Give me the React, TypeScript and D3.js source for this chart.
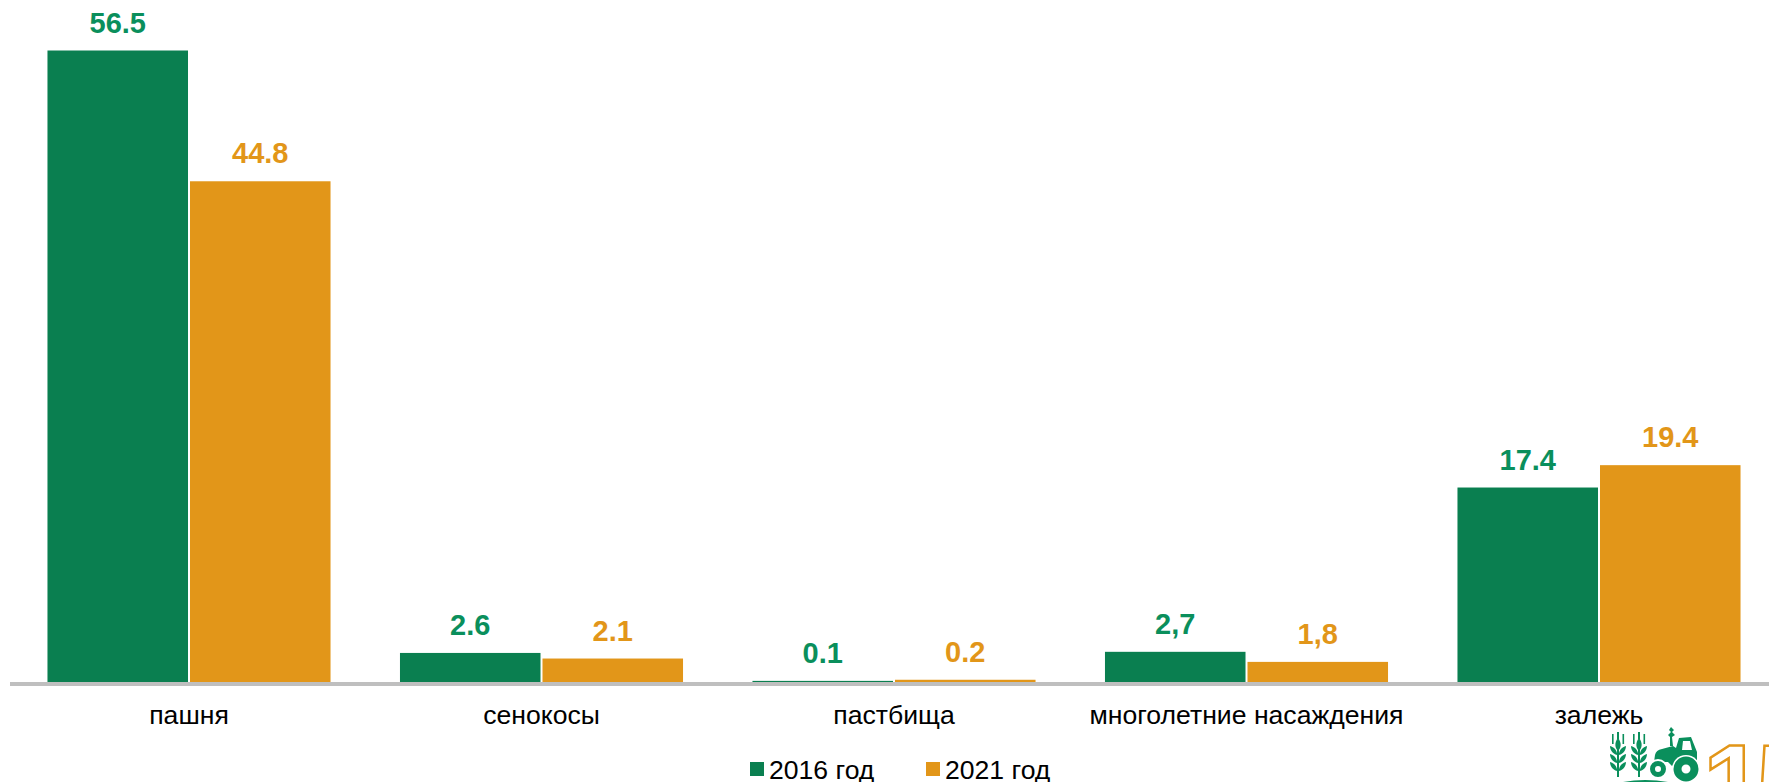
import React from "react";
import * as d3 from "d3";

const categories = ["пашня", "сенокосы", "пастбища", "многолетние насаждения", "залежь"];
const seriesNames = ["2016 год", "2021 год"];
const values2016 = [56.5, 2.6, 0.1, 2.7, 17.4];
const values2021 = [44.8, 2.1, 0.2, 1.8, 19.4];
const labels2016 = ["56.5", "2.6", "0.1", "2,7", "17.4"];
const labels2021 = ["44.8", "2.1", "0.2", "1,8", "19.4"];
const colors = ["#0A7F50", "#E29619"];
const labelColors = ["#0A8F5C", "#E29619"];

const W = 1769, H = 782;
const baseY = 682;
const x0 = d3.scaleBand<string>().domain(categories).range([12.75, 1775.25]).paddingInner(0.197).paddingOuter(0.0985);
const x1 = d3.scaleBand<string>().domain(seriesNames).range([0, x0.bandwidth()]).paddingInner(0.014);
const y = d3.scaleLinear().domain([0, 56.5]).range([baseY, 50.5]);
const font = "'Liberation Sans', Arial, sans-serif";

const G = "#0A8F5C";
const Logo = () => (
  <g fill={G}>
    {[1618, 1639].map((cx) => (
      <g key={cx}>
        <rect x={cx - 1} y={740} width={2} height={37} />
        <rect x={cx - 1} y={732} width={2} height={7} />
        <rect x={cx - 6} y={734} width={1.6} height={10} />
        <rect x={cx + 4.5} y={734} width={1.6} height={10} />
        <path d={`M${cx},${738} C${cx + 4},${743} ${cx + 3},${748} ${cx},${751} C${cx - 3},${748} ${cx - 4},${743} ${cx},${738}Z`} />
        {[746, 754, 762].map((yy) => (
          <g key={yy}>
            <path d={`M${cx - 0.8},${yy + 9} C${cx - 6},${yy + 8} ${cx - 8},${yy + 3} ${cx - 8},${yy} C${cx - 4},${yy + 1} ${cx - 1},${yy + 4} ${cx - 0.8},${yy + 9}Z`} />
            <path d={`M${cx + 0.8},${yy + 9} C${cx + 6},${yy + 8} ${cx + 8},${yy + 3} ${cx + 8},${yy} C${cx + 4},${yy + 1} ${cx + 1},${yy + 4} ${cx + 0.8},${yy + 9}Z`} />
          </g>
        ))}
      </g>
    ))}
    <path d="M1623,782 Q1645,778 1668,782Z" />
    <path d="M1655,755 Q1656,750 1662,749 L1673,746 L1676,748 L1679,738 L1691,737 L1697,752 L1697,760 L1680,760 L1672,766 L1668,762 L1654,762 Z" />
    <path d="M1683,741 L1690,741 L1692,750 L1682,750 Z" fill="#fff" />
    <path d="M1671,727 L1674,730 L1672,732 L1675,735 L1672,737 L1673,746 L1670,746 L1670,737 L1668,735 L1671,732 L1669,730 Z" />
    <circle cx={1658} cy={769} r={10} fill="#fff" />
    <circle cx={1686} cy={769} r={14} fill="#fff" />
    <circle cx={1658} cy={769} r={5.5} fill="none" stroke={G} strokeWidth={5} />
    <circle cx={1686} cy={769} r={8.5} fill="none" stroke={G} strokeWidth={8} />
  </g>
);

export default function App() {
  return (
    <svg width={W} height={H} viewBox={`0 0 ${W} ${H}`} style={{ position: "fixed", left: 0, top: 0, background: "#fff" }}>
      <rect x={10} y={682} width={W - 10} height={4} fill="#BFBFBF" />
      {categories.map((c, i) => {
        const g = x0(c)!;
        const rows = [
          { s: seriesNames[0], v: values2016[i], l: labels2016[i], k: 0 },
          { s: seriesNames[1], v: values2021[i], l: labels2021[i], k: 1 },
        ];
        return (
          <g key={c}>
            {rows.map((r) => {
              const bx = g + x1(r.s)!;
              const top = y(r.v);
              return (
                <g key={r.s}>
                  <rect x={bx} y={top} width={x1.bandwidth()} height={baseY - top} fill={colors[r.k]} />
                  <text x={bx + x1.bandwidth() / 2} y={top - 18} textAnchor="middle" fontFamily={font} fontWeight={700} fontSize={29} fill={labelColors[r.k]}>{r.l}</text>
                </g>
              );
            })}
            <text x={g + x0.bandwidth() / 2} y={724} textAnchor="middle" fontFamily={font} fontSize={26.6} fill="#000">{c}</text>
          </g>
        );
      })}
      {seriesNames.map((s, i) => (
        <g key={s}>
          <rect x={750 + i * 176} y={762} width={14} height={14} fill={colors[i]} />
          <text x={769 + i * 176} y={779} fontFamily={font} fontSize={26.6} fill="#000">{s}</text>
        </g>
      ))}
      <Logo />
      <text x={1703} y={821} fontFamily={font} fontWeight={700} fontSize={110} fill="none" stroke="#E29619" strokeWidth={2.5}>1<tspan dx={-8}>5</tspan></text>
    </svg>
  );
}
